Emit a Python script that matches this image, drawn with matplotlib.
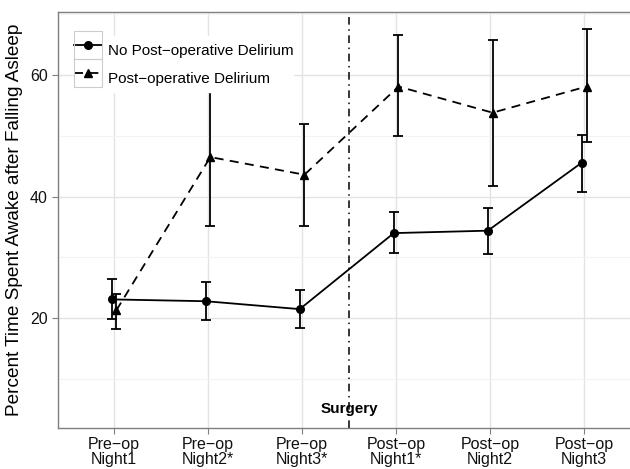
import matplotlib
matplotlib.use('Agg')
import matplotlib.pyplot as plt
from matplotlib.lines import Line2D
from matplotlib.patches import Rectangle
import numpy as np

plt.rcParams['font.family'] = ['Liberation Sans', 'DejaVu Sans']

nights = ['Pre\u2212op\nNight1', 'Pre\u2212op\nNight2*', 'Pre\u2212op\nNight3*',
          'Post\u2212op\nNight1*', 'Post\u2212op\nNight2', 'Post\u2212op\nNight3']

# no post-operative delirium
no_del_mean = [23.1, 22.8, 21.5, 34.0, 34.4, 45.6]
no_del_low = [19.8, 19.7, 18.4, 30.7, 30.6, 40.8]
no_del_high = [26.4, 25.9, 24.7, 37.4, 38.1, 50.1]

# post-operative delirium
del_mean = [21.3, 46.5, 43.6, 58.1, 53.8, 58.1]
del_low = [18.2, 35.2, 35.2, 49.9, 41.8, 48.9]
del_high = [24.0, 57.8, 51.9, 66.6, 65.8, 67.5]

surgery_x = 3.5
surgery_label_y = 5

fig = plt.figure(figsize=(6.3, 4.69), dpi=100)
ax = fig.add_axes([0.0913, 0.088, 0.9257, 0.887])

x = np.arange(1, len(nights) + 1)
dodge = 0.025

# grid
ax.set_yticks([20, 40, 60])
ax.set_yticks([10, 30, 50, 70], minor=True)
ax.grid(True, which='major', color='#e3e3e3', linewidth=1.0, zorder=0)
ax.grid(True, which='minor', axis='y', color='#f3f3f3', linewidth=0.8, zorder=0)
ax.set_axisbelow(True)

xa = x - dodge
xb = x + dodge
ax.errorbar(xa, no_del_mean,
            yerr=[np.array(no_del_mean) - no_del_low, np.array(no_del_high) - no_del_mean],
            fmt='none', ecolor='black', elinewidth=1.3, capsize=3.3, capthick=1.3, zorder=3)
ax.errorbar(xb, del_mean,
            yerr=[np.array(del_mean) - del_low, np.array(del_high) - del_mean],
            fmt='none', ecolor='black', elinewidth=1.3, capsize=3.3, capthick=1.3, zorder=3)
ax.plot(xa, no_del_mean, color='black', linewidth=1.3, marker='o', markersize=5.5, zorder=4)
ax.plot(xb, del_mean, color='black', linewidth=1.3, linestyle=(0, (5, 3.5)),
        marker='^', markersize=6, zorder=4)

ax.axvline(surgery_x, color='black', linewidth=1.1, linestyle=(0, (5, 3, 1, 3)), zorder=2)
ax.text(surgery_x, surgery_label_y, 'Surgery', ha='center', va='center',
        fontsize=11, fontweight='bold', color='black', zorder=5)

ax.set_xlim(0.4, 6.6)
ax.set_ylim(2.0, 70.4)
ax.set_xticks(x)
ax.set_xticklabels(nights, fontsize=11.5, color='#111111', linespacing=0.95)
ax.tick_params(axis='y', labelsize=11.5, labelcolor='#111111', pad=3)
ax.tick_params(axis='x', pad=3)
ax.tick_params(which='major', color='#7f7f7f', length=4, width=0.8)
ax.tick_params(which='minor', length=0)
for s in ax.spines.values():
    s.set_color('#7f7f7f')
    s.set_linewidth(1.0)

ax.set_ylabel('Percent Time Spent Awake after Falling Asleep', fontsize=13.7, labelpad=5)

handles = [Line2D([], [], color='black', linewidth=1.3, marker='o', markersize=5.5),
           Line2D([], [], color='black', linewidth=1.3, linestyle=(0, (5, 3.5)),
                  marker='^', markersize=6)]
leg = ax.legend(handles, ['No Post\u2212operative Delirium', 'Post\u2212operative Delirium'],
                loc='upper left', bbox_to_anchor=(0.0283, 0.9416), fontsize=11,
                handlelength=1.85, handleheight=2.45, labelspacing=0.0, handletextpad=0.35,
                borderpad=0.0, borderaxespad=0.0, frameon=True, fancybox=False,
                edgecolor='white', facecolor='white', framealpha=1.0)

# key boxes around legend handles
fig.canvas.draw()
renderer = fig.canvas.get_renderer()
inv = ax.transAxes.inverted()
key_w, key_h = 28, 28
for line in leg.get_lines():
    bb = line.get_window_extent(renderer)
    cx = (bb.x0 + bb.x1) / 2
    ys = line.get_transform().transform([[0, line.get_ydata()[0]]])[0][1]
    (x0, y0) = inv.transform((cx - key_w / 2, ys - key_h / 2))
    (x1, y1) = inv.transform((cx + key_w / 2, ys + key_h / 2))
    ax.add_patch(Rectangle((x0, y0), x1 - x0, y1 - y0, transform=ax.transAxes,
                           fill=False, edgecolor='#cccccc', linewidth=0.8, zorder=6,
                           clip_on=False))

fig.savefig('out.png', dpi=100)
